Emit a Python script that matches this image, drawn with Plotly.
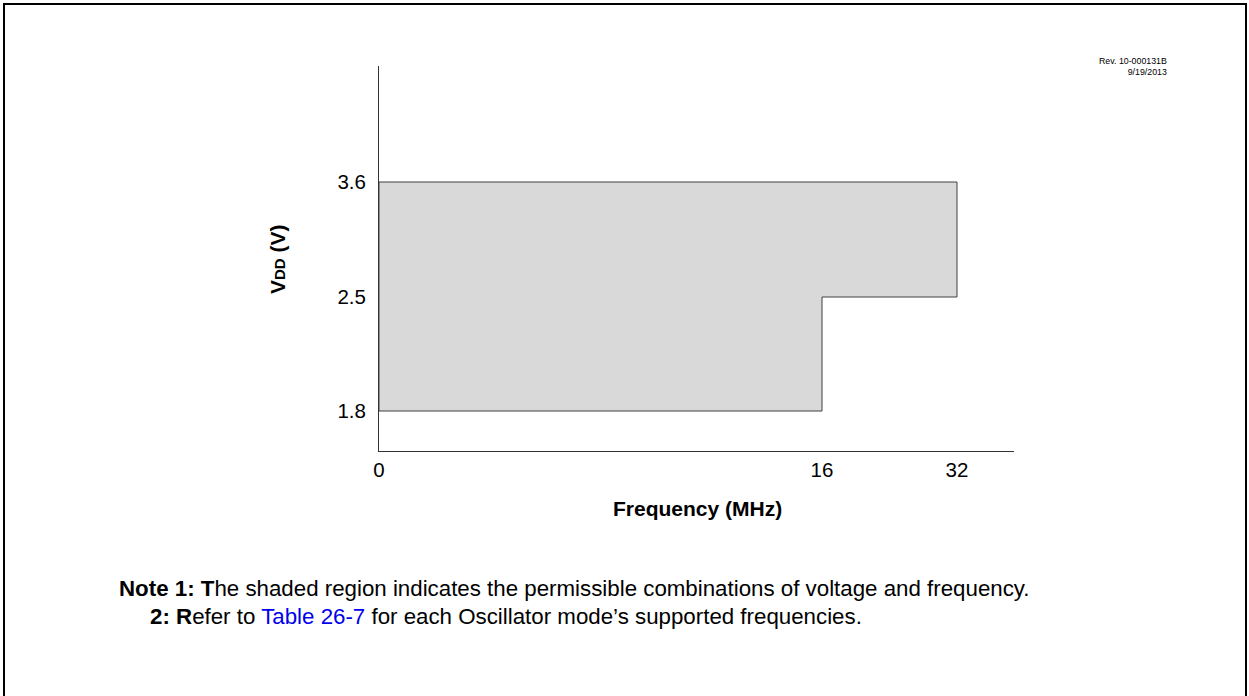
import numpy as np
import plotly.graph_objects as go

# ---- data ----
freq_ticks = [0, 16, 32]            # MHz tick labels
vdd_ticks = [1.8, 2.5, 3.6]         # V tick labels
# operating region boundary (frequency MHz, VDD V)
region_freq = [0, 16, 16, 32, 32, 0, 0]
region_vdd = [1.8, 1.8, 2.5, 2.5, 3.6, 3.6, 1.8]

# ---- schematic (non-linear) axis layout ----
W, H = 1249, 696
L, R, T, B = 379, 1014, 66, 451          # plot area in pixels
freq_pos = [0, 443, 578]                 # schematic positions of frequency ticks
vdd_pos = [40, 154, 269]                 # schematic positions of voltage ticks

fx = np.interp(region_freq, freq_ticks, freq_pos)
fy = np.interp(region_vdd, vdd_ticks, vdd_pos)

FONT = "Liberation Sans, Arial, sans-serif"

def px(x):
    return (x - L) / (R - L)

def py(y):
    return (B - y) / (B - T)

fig = go.Figure()
fig.add_trace(go.Scatter(
    x=fx, y=fy, mode="lines", fill="toself",
    fillcolor="#d9d9d9", line=dict(color="#404040", width=1),
    hoverinfo="skip", showlegend=False))

fig.update_xaxes(
    range=[0, R - L], tickvals=freq_pos, ticktext=[str(v) for v in freq_ticks],
    showline=True, linecolor="#333333", linewidth=1, showgrid=False,
    zeroline=False, ticks="", ticklabelstandoff=0,
    tickfont=dict(family=FONT, size=20.5, color="#000"))
fig.update_yaxes(
    range=[0, B - T], tickvals=vdd_pos, ticktext=[str(v) for v in vdd_ticks],
    showline=True, linecolor="#333333", linewidth=1, showgrid=False,
    zeroline=False, ticks="", ticklabelstandoff=8,
    tickfont=dict(family=FONT, size=20.5, color="#000"))

ann = []
ann.append(dict(x=px(697), y=py(508), xref="paper", yref="paper",
                text="<b>Frequency (MHz)</b>", showarrow=False,
                font=dict(family=FONT, size=21, color="#000"),
                xanchor="center", yanchor="middle"))
ann.append(dict(x=px(277), y=py(259), xref="paper", yref="paper",
                text="<b>V<span style='font-size:15px'>DD</span> (V)</b>",
                textangle=-90, showarrow=False,
                font=dict(family=FONT, size=21, color="#000"),
                xanchor="center", yanchor="middle"))
ann.append(dict(x=px(1169), y=py(66), xref="paper", yref="paper",
                text="Rev. 10-000131B<br>9/19/2013", align="right",
                showarrow=False, font=dict(family=FONT, size=8.8, color="#000"),
                xanchor="right", yanchor="middle"))
ann.append(dict(x=px(117), y=py(588), xref="paper", yref="paper",
                text="<b>Note 1: T</b>he shaded region indicates the permissible combinations of voltage and frequency.",
                showarrow=False, font=dict(family=FONT, size=22.3, color="#000"),
                xanchor="left", yanchor="middle"))
ann.append(dict(x=px(148), y=py(616), xref="paper", yref="paper",
                text="<b>2: R</b>efer to <span style='color:#0000ee'>Table 26-7</span> for each Oscillator mode\u2019s supported frequencies.",
                showarrow=False, font=dict(family=FONT, size=22.3, color="#000"),
                xanchor="left", yanchor="middle"))

shapes = [dict(type="rect", xref="paper", yref="paper",
               x0=px(4), x1=px(1246), y0=py(705), y1=py(4),
               line=dict(color="#000", width=2), fillcolor="rgba(0,0,0,0)",
               layer="below")]

fig.update_layout(
    width=W, height=H,
    margin=dict(l=L, r=W - R, t=T, b=H - B, autoexpand=False),
    paper_bgcolor="white", plot_bgcolor="white",
    annotations=ann, shapes=shapes, showlegend=False,
    font=dict(family=FONT))

fig.write_html(
    "out.html",
    config={"displayModeBar": False},
    post_script="document.body.style.margin='0px';document.body.style.overflow='hidden';")
